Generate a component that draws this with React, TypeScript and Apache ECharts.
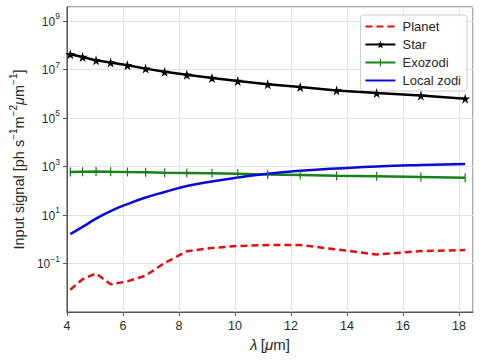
import React, { useEffect, useRef } from "react";
import * as echarts from "echarts";

// wavelength grid (µm)
const lambda = [4.12, 4.56, 5.04, 5.56, 6.16, 6.81, 7.49, 8.28, 9.18, 10.1, 11.17, 12.33, 13.63, 15.06, 16.64, 18.22];
// input signal [ph s^-1 m^-2 µm^-1]
const planet = [0.0083, 0.0224, 0.0389, 0.0138, 0.0182, 0.0316, 0.105, 0.316, 0.437, 0.525, 0.575, 0.575, 0.38, 0.234, 0.324, 0.355];
const star = [4.17e7, 3.24e7, 2.34e7, 1.91e7, 1.48e7, 1.07e7, 7.9e6, 6.0e6, 4.4e6, 3.3e6, 2.4e6, 1.86e6, 1.35e6, 1.05e6, 8.3e5, 6.2e5];
const exozodi = [589, 603, 617, 603, 589, 575, 550, 537, 525, 501, 468, 437, 407, 389, 363, 339];
const localZodi = [1.62, 3.2, 7.0, 14.5, 28.0, 52.5, 88, 155, 240, 347, 501, 661, 813, 1000, 1150, 1260];

const seriesNames = ["Planet", "Star", "Exozodi", "Local zodi"];
const xTicks = [4, 6, 8, 10, 12, 14, 16, 18];

const FONT = "Liberation Sans, Arial, sans-serif";
const STAR_PATH =
  "path://M50,0 L61,35 L98,35 L68,57 L79,91 L50,70 L21,91 L32,57 L2,35 L39,35 Z";
const BAR_PATH = "path://M0,5 L0,5 M4.3,0 L5.7,0 L5.7,10 L4.3,10 Z M10,5 L10,5";
const NO_ICON = "path://M0,0 L0,0 M10,10 L10,10 M5,5 L5.02,5 L5.02,5.02 Z";

const pairs = (ys: number[]) => lambda.map((x, i) => [x, ys[i]]);

export default function App() {
  const ref = useRef<HTMLDivElement>(null);
  useEffect(() => {
    if (!ref.current) return;
    const chart = echarts.init(ref.current, undefined, { renderer: "svg" });
    const supRich = {
      b: { fontSize: 12, fontFamily: FONT, color: "#2a2a2a", verticalAlign: "bottom", lineHeight: 14 },
      s: { fontSize: 8.5, fontFamily: FONT, color: "#2a2a2a", verticalAlign: "bottom", lineHeight: 10, padding: [0, 0, 7, 0] },
    };
    chart.setOption({
      animation: false,
      backgroundColor: "#ffffff",
      textStyle: { fontFamily: FONT },
      grid: {
        left: 65,
        right: 12,
        top: 7,
        bottom: 48,
        show: true,
        borderColor: "#555",
        borderWidth: 1,
        backgroundColor: "transparent",
      },
      legend: {
        data: seriesNames,
        orient: "vertical",
        right: 18,
        top: 15,
        itemWidth: 30,
        itemHeight: 10,
        itemGap: 5,
        padding: [5, 6, 4, 4],
        backgroundColor: "rgba(255,255,255,0.85)",
        borderColor: "#cccccc",
        borderWidth: 1,
        borderRadius: 3,
        textStyle: { fontFamily: FONT, fontSize: 13, color: "#262626", padding: [0, 0, 0, 2] },
      },
      xAxis: {
        type: "value",
        min: 4,
        max: 18.5,
        interval: 2,
        name: "{i|λ} {b|[}{i|μ}{b|m]}",
        nameLocation: "middle",
        nameGap: 21,
        nameTextStyle: {
          rich: {
            i: { fontSize: 15, fontStyle: "italic", fontFamily: FONT, color: "#262626" },
            b: { fontSize: 15, fontFamily: FONT, color: "#262626" },
          },
        },
        axisLine: { show: true, lineStyle: { color: "#555", width: 1 } },
        axisTick: { show: true, length: 4, lineStyle: { color: "#555" } },
        axisLabel: {
          fontSize: 12.5,
          fontFamily: FONT,
          color: "#2a2a2a",
          margin: 7,
          showMaxLabel: false,
          formatter: (v: number) => (xTicks.includes(v) ? String(v) : ""),
        },
        splitLine: { show: true, lineStyle: { color: "#e3e3e3", width: 1 } },
      },
      yAxis: {
        type: "log",
        logBase: 10,
        min: 0.001,
        max: 3.7e9,
        interval: 2,
        name: "{b|Input signal [ph s}{s|−1}{b|m}{s|−2}{i|μ}{b|m}{s|−1}{b|]}",
        nameLocation: "middle",
        nameGap: 36,
        nameTextStyle: {
          rich: {
            b: { fontSize: 14.5, fontFamily: FONT, color: "#262626", verticalAlign: "bottom", lineHeight: 16 },
            i: { fontSize: 14.5, fontFamily: FONT, fontStyle: "italic", color: "#262626", verticalAlign: "bottom", lineHeight: 16 },
            s: { fontSize: 10, fontFamily: FONT, color: "#262626", verticalAlign: "bottom", lineHeight: 11, padding: [0, 0, 8, 0] },
          },
        },
        axisLine: { show: true, lineStyle: { color: "#555", width: 1 } },
        axisTick: { show: true, length: 4, lineStyle: { color: "#555" } },
        minorTick: { show: false },
        axisLabel: {
          margin: 7,
          showMinLabel: false,
          showMaxLabel: false,
          formatter: (v: number) => {
            const e = Math.log10(v);
            const r = Math.round(e);
            if (Math.abs(e - r) > 1e-6 || r < -2) return "";
            const s = r < 0 ? "−" + Math.abs(r) : String(r);
            return "{b|10}{s|" + s + "}";
          },
          rich: supRich,
        },
        splitLine: { show: true, lineStyle: { color: "#e3e3e3", width: 1 } },
      },
      series: [
        {
          name: seriesNames[0],
          type: "line",
          data: pairs(planet),
          symbol: NO_ICON,
          showSymbol: false,
          lineStyle: { color: "#e01010", width: 2.5, type: [7, 4] },
          itemStyle: { color: "#e01010" },
          z: 5,
        },
        {
          name: seriesNames[1],
          type: "line",
          data: pairs(star),
          symbol: STAR_PATH,
          symbolSize: 10,
          lineStyle: { color: "#000", width: 2.5 },
          itemStyle: { color: "#000" },
          z: 4,
        },
        {
          name: seriesNames[2],
          type: "line",
          data: pairs(exozodi),
          symbol: BAR_PATH,
          symbolSize: 9,
          lineStyle: { color: "#1a801a", width: 2.5 },
          itemStyle: { color: "#1a801a" },
          z: 3,
        },
        {
          name: seriesNames[3],
          type: "line",
          data: pairs(localZodi),
          symbol: NO_ICON,
          showSymbol: false,
          smooth: 0.5,
          lineStyle: { color: "#0a0ad8", width: 2.5 },
          itemStyle: { color: "#0a0ad8" },
          z: 3,
        },
      ],
    });
    return () => chart.dispose();
  }, []);
  return <div ref={ref} style={{ width: 485, height: 360, position: "absolute", left: 0, top: 0 }} />;
}
